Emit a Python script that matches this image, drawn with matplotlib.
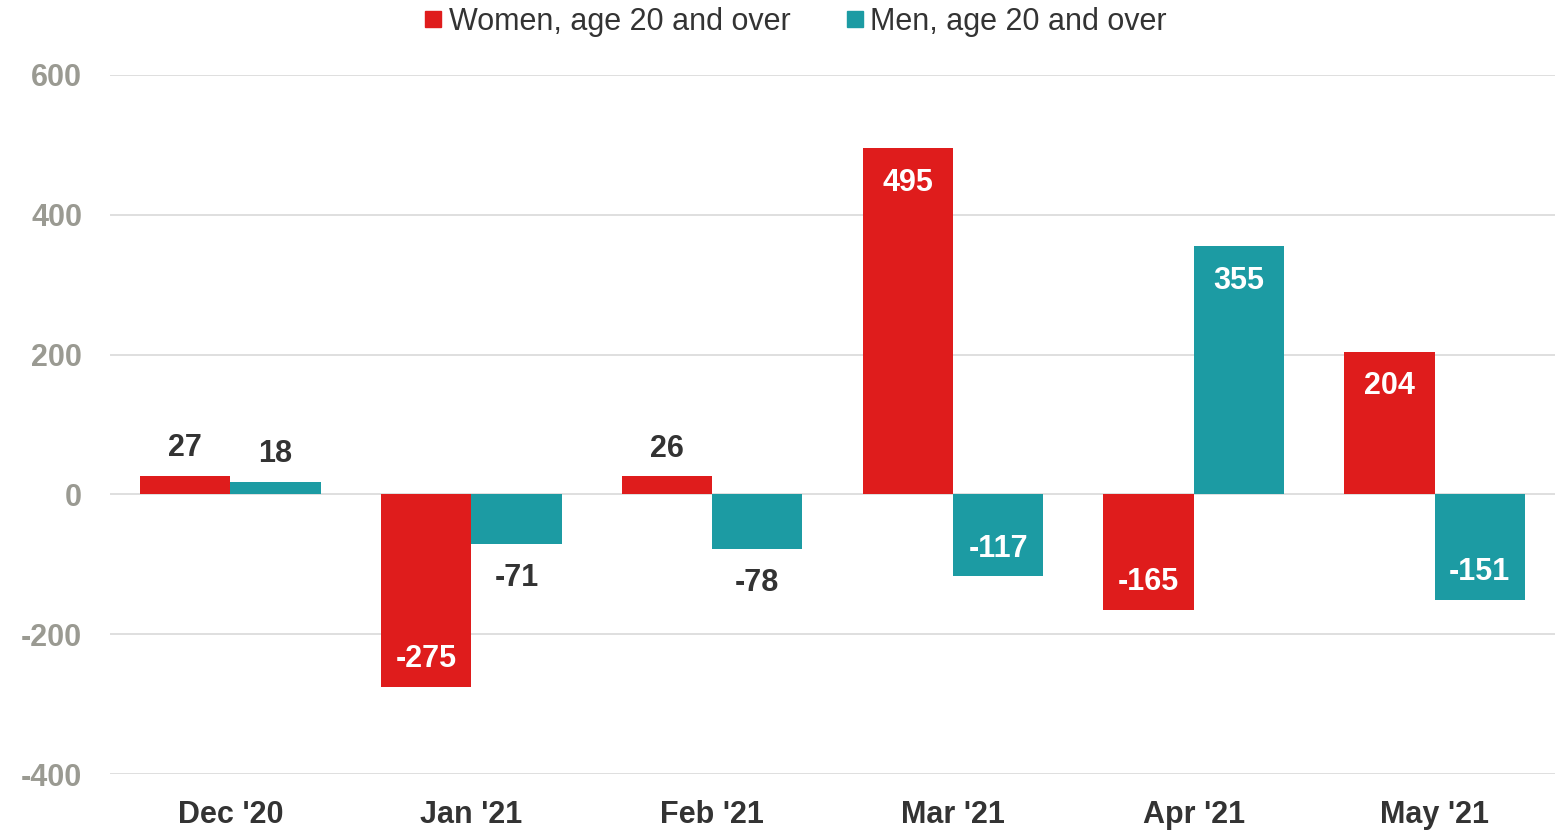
import matplotlib
matplotlib.use("Agg")
import matplotlib.pyplot as plt
from matplotlib.lines import Line2D
import numpy as np

categories = ["Dec '20", "Jan '21", "Feb '21", "Mar '21", "Apr '21", "May '21"]
women = [27, -275, 26, 495, -165, 204]
men = [18, -71, -78, -117, 355, -151]
series_names = ["Women, age 20 and over", "Men, age 20 and over"]
yticks = [-400, -200, 0, 200, 400, 600]

RED = "#df1c1c"
TEAL = "#1c9ba3"
DARK = "#333333"
GRAY = "#9a9a92"

plt.rcParams['font.family'] = ['Liberation Sans', 'DejaVu Sans']

fig = plt.figure(figsize=(15.66, 8.3), dpi=100)
ax = fig.add_axes([110/1566, (830-774)/830, (1555-110)/1566, 699/830])

x = np.arange(len(categories))
w = 0.375
b1 = ax.bar(x - w/2, women, w, color=RED, zorder=3)
b2 = ax.bar(x + w/2, men, w, color=TEAL, zorder=3)

ax.set_xlim(-0.5, len(categories) - 0.5)
ax.set_ylim(-400, 600)
ax.set_yticks(yticks)
ax.set_yticklabels([str(t) for t in yticks], fontsize=22, fontweight='bold', color=GRAY)
ax.set_xticks(x)
ax.set_xticklabels(categories, fontsize=22, fontweight='bold', color=DARK)
ax.tick_params(axis='both', length=0)
ax.tick_params(axis='y', pad=20)
ax.tick_params(axis='x', pad=19)
ax.grid(axis='y', color='#dcdcdc', linewidth=1.3, zorder=0)
for s in ax.spines.values():
    s.set_visible(False)

for bars, vals in ((b1, women), (b2, men)):
    for bar, v in zip(bars, vals):
        cx = bar.get_x() + bar.get_width()/2
        inside = abs(v) > 100
        sign = 1 if v >= 0 else -1
        off = -22.3*sign if inside else 22.3*sign
        ax.annotate(str(v), (cx, v), xytext=(0, off - 2.5), textcoords='offset points',
                    ha='center', va='center', fontsize=22, fontweight='bold',
                    color='white' if inside else DARK, zorder=4)

handles = [Line2D([], [], marker='s', linestyle='none', markersize=11, color=RED),
           Line2D([], [], marker='s', linestyle='none', markersize=11, color=TEAL)]
fig.legend(handles, series_names, loc='upper center', bbox_to_anchor=(0.506, 1.025),
           ncol=2, frameon=False, fontsize=22, handletextpad=0.0, handlelength=1.0,
           columnspacing=1.6, labelcolor=DARK)

fig.savefig("out.png", dpi=100)
